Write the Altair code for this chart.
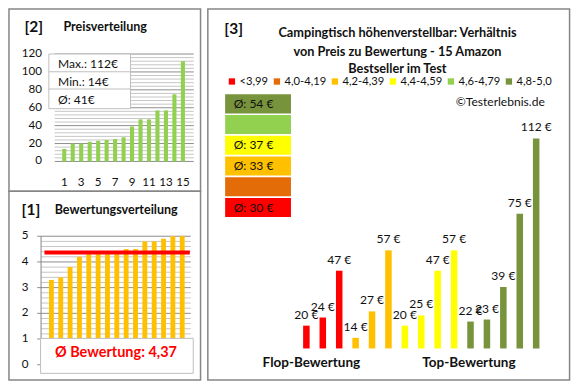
import altair as alt
import pandas as pd

# ---------------- data ----------------
prices_sorted = [14, 20, 20, 22, 23, 24, 25, 27, 39, 47, 47, 57, 57, 75, 112]
ratings_sorted = [3.3, 3.4, 3.8, 4.2, 4.3, 4.3, 4.3, 4.3, 4.5, 4.5, 4.8, 4.8, 4.9, 5.0, 5.0]
mean_rating = 4.37
bar_prices = [20, 24, 47, 14, 27, 57, 20, 25, 47, 57, 22, 23, 39, 75, 112]
bar_classes = ["<3,99"] * 3 + ["4,2-4,39"] * 3 + ["4,4-4,59"] * 4 + ["4,8-5,0"] * 5
class_names = ["<3,99", "4,0-4,19", "4,2-4,39", "4,4-4,59", "4,6-4,79", "4,8-5,0"]
class_colors = ["#FF0000", "#E36C09", "#FFC000", "#FFFF00", "#92D050", "#77933C"]
price_ticks = [0, 20, 40, 60, 80, 100, 120]
rating_ticks = [0, 1, 2, 3, 4, 5]
pos_ticks = [1, 3, 5, 7, 9, 11, 13, 15]
title_lines = ["Campingtisch höhenverstellbar: Verhältnis",
               "von Preis zu Bewertung - 15 Amazon",
               "Bestseller im Test"]

# ---------------- layout helpers ----------------
FONT = "Lato"
SX = 564 / 580
SY = 374 / 390
FS = 0.965


def X(v):
    return round(v * SX, 2)


def Y(v):
    return round(v * SY, 2)


one = pd.DataFrame({"k": [0]})


def txt(s, x, y, size, bold=False, align="left", color="#111111"):
    return alt.Chart(one).mark_text(
        text=s, align=align, baseline="middle", font=FONT, fontSize=size * FS,
        fontWeight="bold" if bold else "normal", color=color
    ).encode(x=alt.value(X(x)), y=alt.value(Y(y)))


def rect(x1, x2, y1, y2, fill="white", stroke="#BFBFBF", sw=1.0, fo=1.0):
    return alt.Chart(one).mark_rect(
        fill=fill, fillOpacity=fo, stroke=stroke, strokeWidth=sw
    ).encode(x=alt.value(X(x1)), x2=alt.value(X(x2)), y=alt.value(Y(y1)), y2=alt.value(Y(y2)))


def hline(x1, x2, y, color="#BFBFBF", sw=1.0):
    return alt.Chart(one).mark_rule(color=color, strokeWidth=sw).encode(
        x=alt.value(X(x1)), x2=alt.value(X(x2)), y=alt.value(Y(y)))


FRAME = "#868686"
frames = [
    rect(1, 198, 1, 191, fill="white", stroke=FRAME, sw=1.5, fo=0),
    rect(1, 198, 191, 388, fill="white", stroke=FRAME, sw=1.5, fo=0),
    rect(205.5, 577.5, 1, 388, fill="white", stroke=FRAME, sw=1.5, fo=0),
]

# ---------------- panel [2] Preisverteilung ----------------
x2s = alt.Scale(domain=[1, 15], range=[X(52.7), X(185)], nice=False, zero=False)
y2s = alt.Scale(domain=[0, 120], range=[Y(160), Y(48)], nice=False, zero=False)
df2 = pd.DataFrame({"pos": list(range(1, 16)), "price": prices_sorted})
minor2 = pd.DataFrame({"g": [v for v in range(0, 121, 4) if v % 20]})
major2 = pd.DataFrame({"g": price_ticks})

p2 = alt.layer(
    alt.Chart(minor2).mark_rule(color="#C6C6C6", strokeWidth=1).encode(
        y=alt.Y("g:Q", scale=y2s, axis=None), x=alt.value(X(48)), x2=alt.value(X(191))),
    alt.Chart(major2).mark_rule(color="#8E8E8E", strokeWidth=1).encode(
        y=alt.Y("g:Q", scale=y2s, axis=None), x=alt.value(X(48)), x2=alt.value(X(191))),
    alt.Chart(df2).mark_bar(color="#92D050", size=X(4.2)).encode(
        x=alt.X("pos:Q", scale=x2s, axis=None),
        y=alt.Y("price:Q", scale=y2s, axis=None), y2=alt.datum(0)),
    alt.Chart(major2).mark_text(align="right", baseline="middle", font=FONT,
                                fontSize=12 * FS, color="#111111").encode(
        y=alt.Y("g:Q", scale=y2s, axis=None), x=alt.value(X(35)), text=alt.Text("g:Q", format="d")),
    alt.Chart(pd.DataFrame({"p": pos_ticks})).mark_text(align="center", baseline="middle", font=FONT,
                                                        fontSize=12 * FS, color="#111111").encode(
        x=alt.X("p:Q", scale=x2s, axis=None), y=alt.value(Y(182)), text=alt.Text("p:Q", format="d")),
)

p2_box = [
    rect(42, 126, 48, 105),
    hline(42, 126, 66.5),
    hline(42, 126, 84.5),
    txt(f"Max.: {max(prices_sorted)}€", 51.5, 58, 12.5),
    txt(f"Min.: {min(prices_sorted)}€", 51.5, 77, 12.5),
    txt(f"Ø: {round(sum(prices_sorted) / len(prices_sorted))}€", 51.5, 96, 12.5),
    txt("[2]", 17, 20, 16, bold=True),
    txt("Preisverteilung", 57, 20, 13, bold=True),
]

# ---------------- panel [1] Bewertungsverteilung ----------------
x1s = alt.Scale(domain=[1, 15], range=[X(39.5), X(184.3)], nice=False, zero=False)
y1s = alt.Scale(domain=[0, 5], range=[Y(372), Y(238)], nice=False, zero=False)
df1 = pd.DataFrame({"pos": list(range(1, 16)), "rating": ratings_sorted})
minor1 = pd.DataFrame({"g": [round(i * 0.2, 1) for i in range(0, 26) if i % 5]})
major1 = pd.DataFrame({"g": rating_ticks})

p1 = alt.layer(
    alt.Chart(minor1).mark_rule(color="#C6C6C6", strokeWidth=1).encode(
        y=alt.Y("g:Q", scale=y1s, axis=None), x=alt.value(X(34)), x2=alt.value(X(188))),
    alt.Chart(major1).mark_rule(color="#8E8E8E", strokeWidth=1).encode(
        y=alt.Y("g:Q", scale=y1s, axis=None), x=alt.value(X(30)), x2=alt.value(X(188))),
    alt.Chart(df1).mark_bar(color="#FFC000", size=X(5)).encode(
        x=alt.X("pos:Q", scale=x1s, axis=None),
        y=alt.Y("rating:Q", scale=y1s, axis=None), y2=alt.datum(0)),
    alt.Chart(pd.DataFrame({"m": [mean_rating]})).mark_rule(color="#FF0000", strokeWidth=4).encode(
        y=alt.Y("m:Q", scale=y1s, axis=None), x=alt.value(X(37.5)), x2=alt.value(X(187))),
    alt.Chart(major1).mark_text(align="right", baseline="middle", font=FONT,
                                fontSize=12 * FS, color="#111111").encode(
        y=alt.Y("g:Q", scale=y1s, axis=None), x=alt.value(X(21)), text=alt.Text("g:Q", format="d")),
)

p1_extra = [
    alt.Chart(one).mark_rule(color="#868686", strokeWidth=1).encode(
        x=alt.value(X(34)), y=alt.value(Y(238)), y2=alt.value(Y(372))),
    rect(33.5, 190.5, 344.5, 381),
    txt("Ø Bewertung: " + f"{mean_rating:.2f}".replace(".", ","), 111, 359.5, 15, bold=True,
        align="center", color="#FF0000"),
    txt("[1]", 14, 211, 16, bold=True),
    txt("Bewertungsverteilung", 48, 211, 13, bold=True),
]

# ---------------- panel [3] ----------------
color_scale = alt.Scale(domain=class_names, range=class_colors)
legend3 = alt.Legend(orient="none", legendX=X(224.5), legendY=Y(78) - 7, direction="horizontal",
                     columns=6, title=None, symbolType="square", symbolSize=40, symbolStrokeWidth=0,
                     labelFont=FONT, labelFontSize=11.2, labelColor="#111111", labelOffset=2,
                     columnPadding=3, padding=0)

x3s = alt.Scale(domain=[1, 15], range=[X(301.7), X(548.3)], nice=False, zero=False)
y3s = alt.Scale(domain=[8.8, 112], range=[Y(355), Y(136)], nice=False, zero=False)
df3 = pd.DataFrame({"pos": list(range(1, 16)), "price": bar_prices, "cls": bar_classes,
                    "lbl": [f"{p} €" for p in bar_prices]})

p3 = alt.layer(
    alt.Chart(df3).mark_bar(size=X(6.7)).encode(
        x=alt.X("pos:Q", scale=x3s, axis=None),
        y=alt.Y("price:Q", scale=y3s, axis=None), y2=alt.datum(8.8),
        color=alt.Color("cls:N", scale=color_scale, legend=legend3)),
    alt.Chart(df3).mark_text(baseline="bottom", dy=-4, font=FONT, fontSize=12.5 * FS,
                             color="#111111").encode(
        x=alt.X("pos:Q", scale=x3s, axis=None),
        y=alt.Y("price:Q", scale=y3s, axis=None), text="lbl:N"),
)

avg_labels = []
for c in class_names:
    vals = [p for p, k in zip(bar_prices, bar_classes) if k == c]
    avg_labels.append(f"Ø: {round(sum(vals) / len(vals))} €" if vals else "")
dfb = pd.DataFrame({"cat": class_names, "lbl": avg_labels})
yb = alt.Scale(domain=class_names[::-1], range=[Y(90), Y(218)], paddingInner=0.08, paddingOuter=0)

p3_boxes = alt.layer(
    alt.Chart(dfb).mark_rect().encode(
        y=alt.Y("cat:N", scale=yb, axis=None), x=alt.value(X(223.3)), x2=alt.value(X(291)),
        color=alt.Color("cat:N", scale=color_scale, legend=legend3)),
    alt.Chart(dfb).mark_text(align="center", baseline="middle", font=FONT, fontSize=12.5 * FS,
                             color="#111111").encode(
        y=alt.Y("cat:N", scale=yb, axis=None), x=alt.value(X(252.5)), text="lbl:N"),
)

p3_text = [
    txt("[3]", 222.5, 21.5, 16, bold=True),
    txt(title_lines[0], 400.5, 26, 13.2, bold=True, align="center"),
    txt(title_lines[1], 400.5, 45.5, 13.2, bold=True, align="center"),
    txt(title_lines[2], 400.5, 63.5, 13.2, bold=True, align="center"),
    txt("©Testerlebnis.de", 552, 98, 12.5, align="right"),
    txt("Flop-Bewertung", 312, 370, 14, bold=True, align="center"),
    txt("Top-Bewertung", 474, 370, 14, bold=True, align="center"),
]

chart = alt.layer(
    *frames, p2, *p2_box, p1, *p1_extra, p3, p3_boxes, *p3_text
).resolve_scale(
    x="independent", y="independent"
).properties(
    width=564, height=374, autosize="none", padding=0, background="white"
).configure_view(stroke=None)

chart.save("out.html", embed_options={"renderer": "svg", "actions": False})
